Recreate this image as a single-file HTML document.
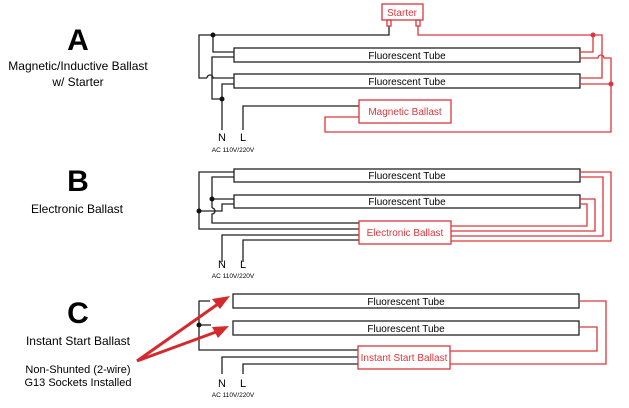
<!DOCTYPE html>
<html><head><style>
body{margin:0;background:#fff;}
svg{display:block;font-family:"Liberation Sans",sans-serif;}
</style></head><body>
<svg width="629" height="408" viewBox="0 0 629 408">
<g text-anchor="middle" fill="#000">
<text x="78" y="50" font-size="30" font-weight="bold">A</text>
<text x="78" y="70" font-size="12">Magnetic/Inductive Ballast</text>
<text x="78" y="86" font-size="12">w/ Starter</text>
<text x="78" y="191" font-size="30" font-weight="bold">B</text>
<text x="77" y="213" font-size="12">Electronic Ballast</text>
<text x="78" y="323" font-size="30" font-weight="bold">C</text>
<text x="78" y="345" font-size="12">Instant Start Ballast</text>
<text x="78" y="373" font-size="11">Non-Shunted (2-wire)</text>
<text x="78" y="386" font-size="11">G13 Sockets Installed</text>
</g>
<g fill="none" stroke="#222" stroke-width="1.3">
<rect x="234" y="48" width="346" height="14" fill="#fff"/>
<rect x="234" y="74" width="346" height="14" fill="#fff"/>
<polyline points="389,26 389,35 199,35 199,78 207,78"/>
<path d="M207,78 a3,3 0 0 1 6,0 L234,78"/>
<polyline points="213,35 213,52 234,52"/>
<polyline points="234,57 212,57 212,99 222,99"/>
<polyline points="234,84 222,84 222,130"/>
<polyline points="243,130 243,106 359,106"/>
<rect x="234" y="169" width="346" height="13" fill="#fff"/>
<rect x="234" y="195" width="346" height="13" fill="#fff"/>
<polyline points="234,172 199,172 199,229 359,229"/>
<polyline points="234,177 212,177 212,208"/>
<path d="M212,208 a3,3 0 0 1 0,6 L212,223 359,223"/>
<polyline points="212,199 234,199"/>
<polyline points="234,204 222,204 222,211 199,211"/>
<polyline points="222,262 222,235 359,235"/>
<polyline points="243,262 243,240 359,240"/>
<rect x="233" y="294" width="346" height="14" fill="#fff"/>
<rect x="233" y="321" width="346" height="14" fill="#fff"/>
<polyline points="210,301 199,301 199,350 358,350"/>
<polyline points="199,325 211,325"/>
<polyline points="222,374 222,357 358,357"/>
<polyline points="243,374 243,364 358,364"/>
</g>
<g fill="#111">
<circle cx="213" cy="35" r="2.5"/><circle cx="222" cy="99" r="2.5"/>
<circle cx="199" cy="211" r="2.5"/><circle cx="212" cy="199" r="2.5"/>
<circle cx="199" cy="325" r="2.5"/>
</g>
<g font-size="10" text-anchor="middle" fill="#000">
<text x="407" y="59">Fluorescent Tube</text>
<text x="407" y="85">Fluorescent Tube</text>
<text x="407" y="179">Fluorescent Tube</text>
<text x="407" y="205">Fluorescent Tube</text>
<text x="406" y="305">Fluorescent Tube</text>
<text x="406" y="332">Fluorescent Tube</text>
</g>
<g font-size="10" text-anchor="middle" fill="#000">
<text x="222" y="141" font-size="11">N</text><text x="243" y="141" font-size="11">L</text>
<text x="233" y="152" font-size="6.5">AC 110V/220V</text>
<text x="222" y="268" font-size="11">N</text><text x="243" y="268" font-size="11">L</text>
<text x="233" y="278" font-size="6.5">AC 110V/220V</text>
<text x="222" y="387" font-size="11">N</text><text x="243" y="387" font-size="11">L</text>
<text x="233" y="397" font-size="6.5">AC 110V/220V</text>
</g>
<g fill="none" stroke="#d9373d" stroke-width="1.3">
<rect x="382" y="4" width="41" height="16" fill="#fff"/>
<rect x="387" y="20" width="4" height="6"/><rect x="416" y="20" width="4" height="6"/>
<polyline points="418,26 418,35 602,35 602,78 580,78"/>
<polyline points="593,35 593,52 580,52"/>
<path d="M580,58 L598,58 a3,3 0 0 1 6,0 L611,58 611,132 325,132 325,117 359,117"/>
<polyline points="580,84 611,84"/>
<rect x="359" y="100" width="92" height="23" fill="#fff"/>
<polyline points="580,172 611,172 611,241 451,241"/>
<polyline points="580,177 603,177 603,236 451,236"/>
<polyline points="580,199 595,199 595,231 451,231"/>
<polyline points="580,204 587,204 587,226 451,226"/>
<rect x="359" y="221" width="92" height="23" fill="#fff"/>
<polyline points="579,301 606,301 606,364 450,364"/>
<polyline points="579,327 597,327 597,351 450,351"/>
<rect x="358" y="346" width="92" height="23" fill="#fff"/>
</g>
<g fill="#d9373d"><circle cx="593" cy="35" r="2.5"/><circle cx="611" cy="84" r="2.5"/></g>
<g font-size="10" text-anchor="middle" fill="#d9373d">
<text x="402" y="16">Starter</text>
<text x="405" y="115">Magnetic Ballast</text>
<text x="405" y="236">Electronic Ballast</text>
<text x="404" y="361">Instant Start Ballast</text>
</g>
<g stroke="#d42a2e" stroke-width="3" fill="#d42a2e">
<line x1="137" y1="361" x2="218" y2="304"/>
<line x1="137" y1="361" x2="216" y2="332"/>
<polygon points="230,296 212,299 220,309" stroke="none"/>
<polygon points="229,326 212,327 218,338" stroke="none"/>
</g>
</svg>
</body></html>
